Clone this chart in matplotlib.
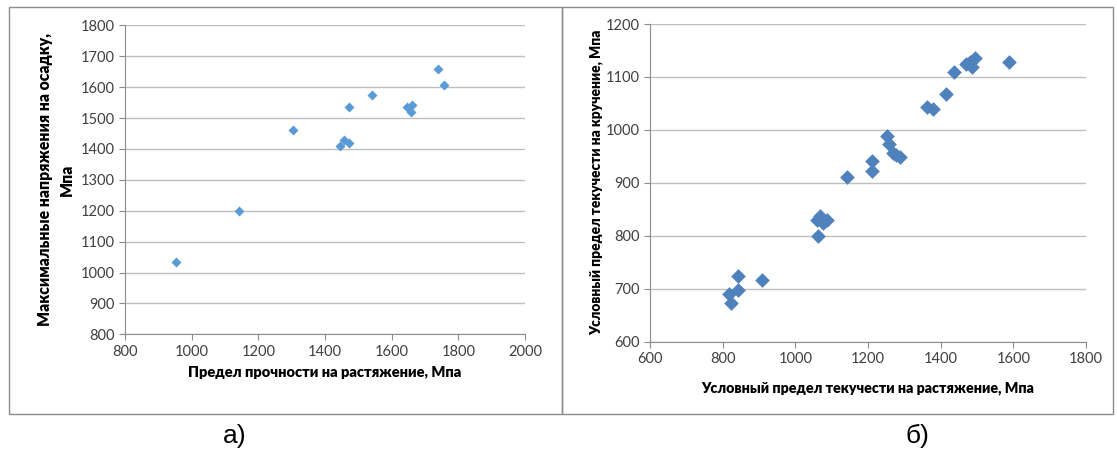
import numpy as np
import matplotlib.pyplot as plt
from matplotlib.patches import Rectangle

# chart a): tensile strength vs max compressive stress
tensile_a = [953, 1141, 1304, 1446, 1456, 1472, 1472, 1540, 1645, 1660, 1657, 1740, 1758]
compress_a = [1033, 1198, 1460, 1409, 1428, 1419, 1535, 1575, 1535, 1542, 1519, 1659, 1606]

# chart б): yield in tension vs yield in torsion
yield_t = [817, 823, 841, 843, 908, 1062, 1068, 1059, 1075, 1086, 1072,
           1143, 1212, 1212, 1253, 1259, 1270, 1278, 1288,
           1363, 1378, 1416, 1437, 1471, 1485, 1494, 1480, 1589]
yield_k = [689, 673, 724, 698, 717, 799, 838, 830, 823, 830, 832,
           911, 941, 923, 988, 974, 957, 953, 949,
           1043, 1039, 1067, 1109, 1125, 1119, 1136, 1128, 1129]

xt_a = np.arange(800, 2001, 200)
yt_a = np.arange(800, 1801, 100)
xt_b = np.arange(600, 1801, 200)
yt_b = np.arange(600, 1201, 100)

W, H = 1117, 450
fig = plt.figure(figsize=(W / 100, H / 100), dpi=100)
plt.rcParams['font.family'] = ['Lato', 'DejaVu Sans']

def px(x0, y0, x1, y1):
    return [x0 / W, 1 - y1 / H, (x1 - x0) / W, (y1 - y0) / H]

# frames round each chart
for x0, x1 in [(9, 562), (562, 1113)]:
    fig.add_artist(Rectangle((x0 / W, 1 - 413.5 / H), (x1 - x0) / W, 406.5 / H,
                             transform=fig.transFigure, fill=False,
                             edgecolor='#8c8c8c', linewidth=1.0))

def style(ax, xt, yt):
    ax.set_xticks(xt)
    ax.set_yticks(yt)
    ax.set_xlim(xt[0], xt[-1])
    ax.set_ylim(yt[0], yt[-1])
    ax.grid(axis='y', color='#bfbfbf', linewidth=1.0)
    ax.set_axisbelow(True)
    for s in ['top', 'right']:
        ax.spines[s].set_visible(False)
    for s in ['left', 'bottom']:
        ax.spines[s].set_color('#8c8c8c')
    ax.tick_params(colors='#8c8c8c', labelcolor='#404040', labelsize=10.5,
                   length=4, direction='out')

ax1 = fig.add_axes(px(125, 25.3, 525, 334.3))
style(ax1, xt_a, yt_a)
ax1.scatter(tensile_a, compress_a, marker='D', s=26, color='#5b9bd5', linewidths=0)
ax1.set_xlabel('Предел прочности на растяжение, Мпа', fontsize=10.5,
               fontweight='heavy', labelpad=5)
ax1.set_ylabel('Максимальные напряжения на осадку,\nМпа', fontsize=11.3,
               fontweight='heavy', labelpad=4, linespacing=1.45)

ax2 = fig.add_axes(px(650, 24, 1086, 341.5))
style(ax2, xt_b, yt_b)
ax2.scatter(yield_t, yield_k, marker='D', s=56, color='#4f81bd', linewidths=0)
ax2.set_xlabel('Условный предел текучести на растяжение, Мпа', fontsize=10.3,
               fontweight='heavy', labelpad=11)
ax2.set_ylabel('Условный предел текучести на кручение, Мпа', fontsize=9.9,
               fontweight='heavy', labelpad=2)

fig.text(235 / W, 1 - 436 / H, 'а)', fontsize=19, ha='center', va='center',
         family='Liberation Sans')
fig.text(917 / W, 1 - 436 / H, 'б)', fontsize=19, ha='center', va='center',
         family='Liberation Sans')

fig.savefig('out.png', dpi=100)
